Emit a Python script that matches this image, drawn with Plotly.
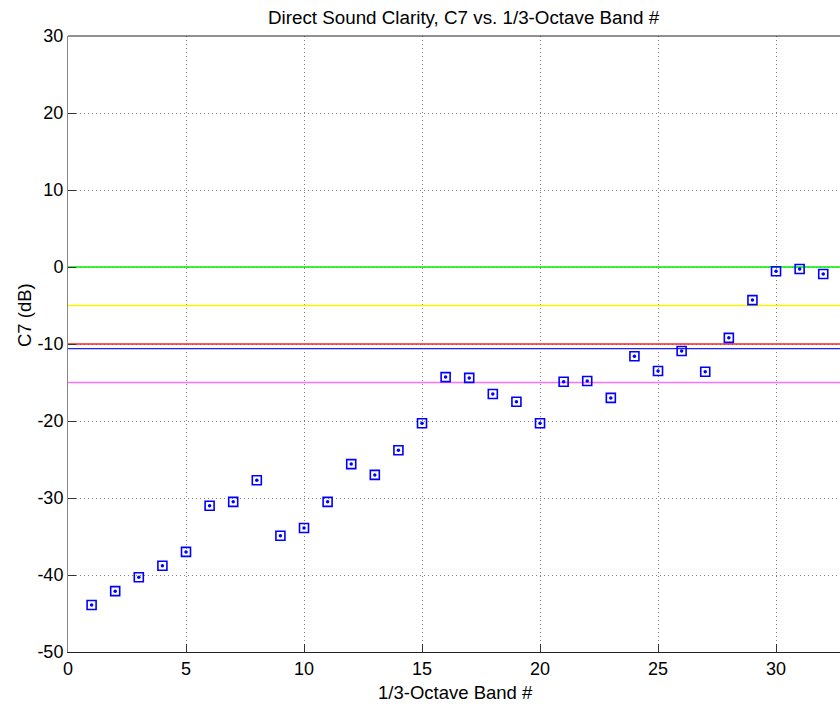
import plotly.graph_objects as go

bands = list(range(1, 33))
c7 = [-43.9, -42.1, -40.3, -38.8, -37.0, -31.0, -30.5, -27.7, -34.9, -33.9,
      -30.5, -25.6, -27.0, -23.8, -20.3, -14.3, -14.4, -16.5, -17.5, -20.3,
      -14.9, -14.8, -17.0, -11.6, -13.5, -10.9, -13.6, -9.2, -4.3, -0.56,
      -0.26, -0.9]

ref_levels = [0, -5, -10, -10.6, -15]
ref_colors = ["#00ee00", "#f5f500", "#ff2020", "#2020ff", "#ff70ff"]

x_range = [0, 32.71]
y_range = [-50, 30]
x_ticks = [0, 5, 10, 15, 20, 25, 30]
y_ticks = [-50, -40, -30, -20, -10, 0, 10, 20, 30]
y_tick_text = ["-50", "-40", "-30", "-20", "-10", "0", "10", "20", "30"]

FONT = "Liberation Sans, Arial, Helvetica, sans-serif"

fig = go.Figure()
for lvl, col in zip(ref_levels, ref_colors):
    fig.add_trace(go.Scatter(x=x_range, y=[lvl, lvl], mode="lines",
                             line=dict(color=col, width=1.3),
                             showlegend=False, hoverinfo="skip"))

fig.add_trace(go.Scatter(x=bands, y=c7, mode="markers",
                         marker=dict(symbol="square-open", size=9,
                                     color="#0000ff", line=dict(width=1.6, color="#0000ff")),
                         showlegend=False))
fig.add_trace(go.Scatter(x=bands, y=c7, mode="markers",
                         marker=dict(symbol="circle", size=3.5, color="#0000ff"),
                         showlegend=False))

fig.update_layout(
    width=840, height=705,
    margin=dict(l=68, r=0, t=36, b=53),
    paper_bgcolor="white", plot_bgcolor="white",
    font=dict(family=FONT, size=18, color="black"),
    showlegend=False,
    xaxis=dict(range=x_range, tickvals=x_ticks, ticks="inside", ticklen=8,
               tickcolor="#333", showline=True, linecolor="#222", linewidth=1,
               showgrid=True, gridcolor="#808080", griddash="1px,3px", gridwidth=1,
               zeroline=False, tickfont=dict(size=18)),
    yaxis=dict(range=y_range, tickvals=y_ticks, ticktext=y_tick_text,
               ticks="inside", ticklen=8,
               tickcolor="#333", showline=True, linecolor="#888", linewidth=1,
               showgrid=True, gridcolor="#808080", griddash="1px,3px", gridwidth=1,
               zeroline=False, tickfont=dict(size=18)),
)

fig.add_shape(type="line", xref="paper", yref="paper", x0=0, x1=1, y0=1, y1=1,
              line=dict(color="#222", width=1))

fig.add_annotation(text="Direct Sound Clarity, C7 vs. 1/3-Octave Band #",
                   xref="paper", yref="paper", x=(464 - 68) / 772, y=1,
                   yshift=19, xanchor="center", yanchor="middle",
                   showarrow=False, font=dict(size=18.8, family=FONT))
fig.add_annotation(text="1/3-Octave Band #",
                   xref="paper", yref="paper", x=(455 - 68) / 772, y=0,
                   yshift=-40, xanchor="center", yanchor="middle",
                   showarrow=False, font=dict(size=18.5, family=FONT))
fig.add_annotation(text="C7 (dB)", textangle=-90,
                   xref="paper", yref="paper", x=0, y=(652 - 315) / 616,
                   xshift=-44, xanchor="center", yanchor="middle",
                   showarrow=False, font=dict(size=18.5, family=FONT))

fig.write_html("out.html")
